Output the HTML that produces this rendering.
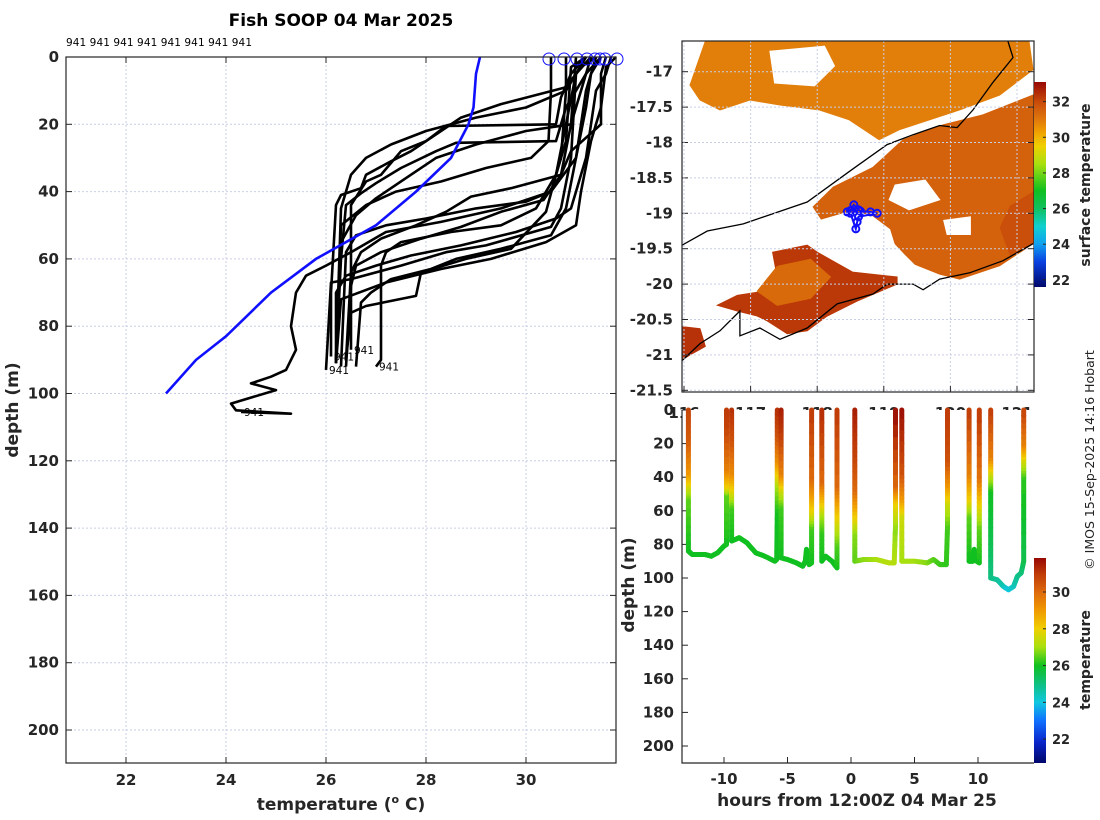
<!DOCTYPE html>
<html><head><meta charset="utf-8"><style>
html,body{margin:0;padding:0;background:#fff;}
svg{display:block;font-family:"DejaVu Sans","Liberation Sans",sans-serif;}
.tk{font-size:15px;font-weight:bold;fill:#262626;}
.lab{font-size:17px;font-weight:bold;fill:#262626;}
</style></head><body>
<svg id="fig" width="1100" height="820" viewBox="0 0 1100 820">
<defs>
<linearGradient id="cbMap" x1="0" y1="1" x2="0" y2="0"></linearGradient>
<linearGradient id="cbTemp" x1="0" y1="1" x2="0" y2="0"></linearGradient>
</defs>
<text x="341" y="26" text-anchor="middle" style="font-size:17px;font-weight:bold;fill:#000">Fish SOOP 04 Mar 2025</text>
<text x="66" y="46" style="font-size:10.5px;fill:#000" textLength="186">941 941 941 941 941 941 941 941</text>
<g id="left"></g>
<g id="map"></g>
<g id="bot"></g>
<text transform="translate(1094,460) rotate(-90)" text-anchor="middle" style="font-size:12.5px;fill:#222">© IMOS 15-Sep-2025 14:16 Hobart</text>
</svg>
<script>
// ---------- LEFT PROFILE DATA ----------
const tempTicks=[22,24,26,28,30];
const depthTicks=[0,20,40,60,80,100,120,140,160,180,200];
const blueProfile=[[29.08,0],[29.0,5],[28.95,15],[28.85,20],[28.5,30],[27.8,40],[27.0,50],[25.8,60],[24.9,70],[24.0,83],[23.4,90],[22.8,100]];
const profiles=[
[[31.4,0],[31.1,3],[30.8,9],[29.5,14],[28.7,18],[28.1,24],[27.7,28],[27.3,31],[26.8,35],[26.7,39],[26.3,41],[26.2,44],[26.1,70],[26.1,89]],
[[31.2,0],[30.9,5],[30.7,12],[30.6,20],[28.4,20.5],[28.0,25],[27.5,28],[27.1,35],[26.8,37],[26.5,44],[26.5,70],[26.5,87]],
[[31.6,0],[31.5,5],[31.5,20],[30.9,28],[30.7,35],[29.7,39],[28.9,41.5],[28.4,46],[27.8,50],[27.1,54],[26.7,58],[26.5,64],[26.4,90]],
[[31.2,0],[30.9,3],[30.8,25],[30.6,35],[30.4,46],[29.7,57],[28.8,60],[27.9,64],[27.8,71],[26.8,74],[26.5,76],[26.4,90]],
[[31.3,0],[31.0,5],[30.9,30],[30.7,45],[30.5,50.5],[29.2,56],[28.4,58],[27.5,62],[26.5,66],[26.1,67],[26.0,93]],
[[31.0,0],[30.9,20],[30.7,35],[30.35,42.5],[29.5,46],[28.7,50.5],[27.9,54],[27.1,58],[26.6,62],[26.5,68],[26.4,92]],
[[31.3,0],[31.0,5],[30.8,20],[30.6,35],[30.2,45],[29.5,50],[28.5,52],[27.5,55],[27.2,58],[27.1,62],[27.1,90],[27.0,92]],
[[31.5,0],[31.2,5],[30.8,15],[30.6,25],[28.6,25.5],[28.2,28],[27.5,33],[27.0,37.5],[26.7,40.5],[26.4,44],[26.3,60],[26.2,90]],
[[31.4,0],[31.2,10],[31.0,30],[30.8,45],[30.5,53],[29.5,57],[28.6,60],[28.1,63],[27.3,66],[26.9,70],[26.7,73],[26.6,92]],
[[31.7,0],[31.6,5],[31.4,10],[31.3,20],[31.2,30],[31.0,40],[30.9,45],[30.6,48],[29.8,52],[28.7,56],[27.7,59],[27.0,62],[26.4,65],[26.2,70],[26.2,91]],
[[31.2,0],[31.0,5],[30.8,10],[30.0,15],[29.0,18],[28.0,22],[27.3,26],[26.8,30],[26.5,35],[26.3,45],[26.2,90]],
[[31.3,0],[31.1,10],[30.9,20],[30.0,22],[29.0,26],[28.2,30],[27.6,36],[27.0,42],[26.6,47],[26.3,55],[26.2,91]],
[[31.5,0],[31.3,5],[31.2,15],[31.0,30],[30.5,40],[29.5,45],[28.3,49],[27.2,52],[26.5,58],[26.0,62],[25.6,65],[25.4,70],[25.3,80],[25.4,87],[25.2,93],[24.9,95],[24.5,97],[25.0,99],[24.1,103],[24.2,105],[25.3,106],[24.3,105.5]],
[[30.8,0],[30.8,10],[30.75,20],[30.7,30],[30.5,40],[30.0,43],[29.0,45],[28.0,48],[27.2,50],[26.6,53],[26.4,58],[26.3,92]],
[[30.5,0],[30.5,10],[30.45,25],[30.1,30],[29.2,33],[28.3,37],[27.4,40],[26.8,44],[26.3,50],[26.2,90]],
[[31.8,0],[31.6,3],[31.5,15],[31.3,25],[31.1,40],[31.0,50],[30.4,55],[29.3,60],[28.3,63],[27.2,67],[26.3,72],[26.2,91]]
];
const surfaceTemps=[30.46,30.76,31.02,31.22,31.38,31.48,31.58,31.82];
const endLabelProfiles=[0,4,1,6,12];

// ---------- MAP DATA ----------
const latTicks=[-17,-17.5,-18,-18.5,-19,-19.5,-20,-20.5,-21,-21.5];
const lonTicks=[116,117,118,119,120,121];
const coastUpper=[[115.97,-19.45],[116.35,-19.25],[116.89,-19.15],[117.29,-19.02],[117.85,-18.84],[118.54,-18.37],[119.05,-18.03],[119.44,-17.89],[119.84,-17.76],[120.1,-17.79],[120.34,-17.54],[120.64,-17.15],[120.94,-16.8],[120.86,-16.56]];
const coastLower=[[115.97,-21.08],[116.24,-20.84],[116.54,-20.66],[116.84,-20.38],[116.84,-20.73],[117.14,-20.62],[117.44,-20.78],[117.85,-20.62],[118.3,-20.28],[118.84,-20.14],[119.05,-20.0],[119.44,-20.0],[119.59,-20.08],[119.84,-19.93],[120.29,-19.84],[120.79,-19.67],[121.24,-19.43]];
const sstRegions=[
 {t:30.9,pts:[[116.09,-17.19],[116.32,-16.57],[119.23,-16.57],[121.18,-16.57],[121.24,-16.97],[120.74,-17.33],[120.14,-17.54],[119.23,-17.82],[118.93,-17.96],[118.48,-17.68],[118.03,-17.54],[117.44,-17.47],[116.99,-17.4],[116.54,-17.54],[116.24,-17.4]]},
 {t:99,pts:[[117.29,-16.71],[118.11,-16.64],[118.26,-16.92],[117.96,-17.2],[117.36,-17.16]]},
 {t:99,pts:[[116.6,-17.7],[117.5,-17.55],[118.3,-17.75],[118.2,-18.0],[117.2,-18.1]]},
 {t:31.5,pts:[[117.94,-18.91],[118.24,-18.63],[118.84,-18.35],[119.29,-17.96],[119.89,-17.75],[120.49,-17.61],[121.24,-17.33],[121.24,-19.43],[120.74,-19.74],[120.14,-19.93],[119.84,-19.86],[119.47,-19.72],[119.32,-19.58],[119.17,-19.43],[119.1,-19.22],[118.8,-19.01],[118.43,-18.98],[118.06,-19.08]]},
 {t:99,pts:[[119.17,-18.6],[119.62,-18.53],[119.84,-18.81],[119.38,-18.95],[119.08,-18.81]]},
 {t:99,pts:[[119.9,-19.1],[120.3,-19.05],[120.3,-19.3],[119.95,-19.3]]},
 {t:31.9,pts:[[120.9,-18.9],[121.24,-18.7],[121.24,-19.43],[120.9,-19.6],[120.75,-19.2]]},
 {t:32.3,pts:[[117.33,-19.55],[117.85,-19.45],[118.0,-19.55],[118.53,-19.83],[119.2,-19.9],[119.2,-20.0],[118.6,-20.24],[118.15,-20.45],[117.85,-20.66],[117.55,-20.7],[117.25,-20.52],[117.1,-20.45],[116.8,-20.38],[116.5,-20.3],[116.8,-20.16],[117.2,-20.1],[117.4,-19.9]]},
 {t:31.3,pts:[[117.4,-19.75],[117.9,-19.65],[118.2,-19.9],[117.9,-20.2],[117.4,-20.3],[117.1,-20.1]]},
 {t:32.4,pts:[[115.97,-20.6],[116.24,-20.63],[116.32,-20.88],[116.09,-21.0],[115.97,-21.07]]}
];
const trackLon=[118.45,118.5,118.55,118.62,118.65,118.8,118.9,118.62,118.6,118.58,118.5];
const trackLat=[-18.98,-18.96,-18.88,-18.95,-18.97,-18.98,-19.0,-19.05,-19.12,-19.22,-19.0];
const mapCbTicks=[22,24,26,28,30,32];

// ---------- DEPTH-TIME DATA (one sub-array per cast) ----------
const hourTicks=[-10,-5,0,5,10];
const depthTicks2=[0,20,40,60,80,100,120,140,160,180,200];
const tempCbTicks=[22,24,26,28,30];
const castHours=[
[-12.8,-12.8,-12.8,-12.8,-12.8,-12.8,-12.5,-11.5,-11.0,-10.5,-10.0,-9.8,-9.8,-9.8,-9.8,-9.8,-9.8],
[-9.4,-9.4,-9.4,-9.4,-9.4,-9.4,-8.8,-8.2,-7.5,-6.8,-6.0,-5.85,-5.8,-5.8,-5.8,-5.8,-5.8,-5.8],
[-5.5,-5.5,-5.5,-5.5,-5.5,-5.5,-5.0,-4.3,-3.8,-3.6,-3.5,-3.3,-3.1,-3.1,-3.1,-3.1,-3.1,-3.1],
[-2.3,-2.3,-2.3,-2.3,-2.3,-2.3,-2.0,-1.5,-1.1,-1.1,-1.1,-1.1,-1.1,-1.1],
[0.3,0.3,0.3,0.3,0.3,0.3,1.0,2.0,3.0,3.4,3.5,3.5,3.5,3.5],
[4.0,4.0,4.0,4.0,4.0,5.0,6.0,6.5,7.0,7.5,7.6,7.6,7.6,7.6,7.6],
[9.3,9.3,9.3,9.3,9.3,9.6,9.7,9.9,10.1,10.1,10.1,10.1,10.1],
[11.0,11.0,11.0,11.0,11.0,11.0,11.5,12.0,12.4,12.8,13.1,13.4,13.6,13.6,13.6,13.6,13.6]
];
const castDepths=[
[0,20,40,48,55,84,86,86,87,85,81,80,50,45,35,10,0],
[0,20,40,50,60,78,76,79,85,87,90,89,60,45,38,30,15,0],
[0,15,40,50,60,88,89,91,93,90,83,92,91,70,60,50,40,0],
[0,45,55,65,75,90,87,90,94,80,68,58,45,0],
[0,30,50,62,75,90,89,89,91,91,70,55,45,0],
[0,40,55,65,90,90,91,89,92,92,70,55,45,30,0],
[0,40,55,65,90,90,83,90,91,70,55,40,0],
[0,30,40,50,80,100,101,105,107,105,99,97,90,40,30,20,0]
];
const castTemps=[
[30.8,30.3,29.0,27.5,26.5,26.0,26,26,26,26,26,26,26.5,28.0,29.5,30.8,31.0],
[31.2,30.5,29.3,27.8,26.3,26.0,26,26,26,26,26,26,26.0,27.0,28.0,29.2,30.5,31.2],
[31.5,31.0,29.5,27.5,26.3,26.0,26,26,26,26,26,26,26.0,26.3,27.8,29.0,30.0,31.0],
[31.3,30.0,28.5,27.0,26.2,26.0,26,26,26,26.4,27.5,28.5,30.0,31.0],
[31.5,30.8,30.0,28.5,26.8,26.5,26.8,27.0,27.2,27.2,26.8,28.0,30.0,31.8],
[31.8,30.5,29.0,27.5,27.0,27.0,26.8,26.5,26.3,26.2,26.3,27.5,29.0,30.5,31.0],
[31,29.5,28,26.5,26,26,26,26,26,26.5,28,29.8,31],
[31,29.5,27.5,26,25.5,25,24.8,24.5,24,24.3,24.8,25,25.5,26.2,27.5,29.5,30.8]
];

// ---------- helpers ----------
const NS="http://www.w3.org/2000/svg";
function mk(tag,attrs,parent,txt){const e=document.createElementNS(NS,tag);for(const k in attrs)e.setAttribute(k,attrs[k]);if(txt!==undefined)e.textContent=txt;parent.appendChild(e);return e;}
function hex2rgb(h){return [parseInt(h.slice(1,3),16),parseInt(h.slice(3,5),16),parseInt(h.slice(5,7),16)];}
function cmap(stops,v){if(v<=stops[0][0])return stops[0][1];if(v>=stops[stops.length-1][0])return stops[stops.length-1][1];
 for(let i=0;i<stops.length-1;i++){const a=stops[i],b=stops[i+1];if(v>=a[0]&&v<=b[0]){const f=(v-a[0])/(b[0]-a[0]);const c1=hex2rgb(a[1]),c2=hex2rgb(b[1]);return 'rgb('+c1.map((c,j)=>Math.round(c+(c2[j]-c)*f)).join(',')+')';}}}
const tStops=[[20.7,'#00086a'],[21.8,'#0a24c8'],[23,'#1070ff'],[24,'#10c8e0'],[25,'#10c080'],[26,'#10c020'],[27,'#a8e010'],[28,'#f0d000'],[29,'#f09a00'],[30,'#dd6a0c'],[31,'#bf3a08'],[31.85,'#960804']];
const mStops=[[21.6,'#00086a'],[23,'#0a40e0'],[24,'#10a0f0'],[25,'#10d0d0'],[26,'#10c060'],[27,'#10c020'],[28.5,'#a8e010'],[29.5,'#f0d000'],[30.3,'#f0a000'],[31,'#e0780c'],[32,'#c84a0a'],[33.1,'#980804']];
function fillGrad(id,stops){const g=document.getElementById(id);const lo=stops[0][0],hi=stops[stops.length-1][0];
 stops.forEach(s=>mk('stop',{offset:((s[0]-lo)/(hi-lo)).toFixed(3),'stop-color':s[1]},g));}
fillGrad('cbMap',mStops);fillGrad('cbTemp',tStops);

// ---------- LEFT PLOT ----------
const L=document.getElementById('left');
const xT=T=>66+(T-20.8)*50, yD=d=>57+d*3.365;
tempTicks.forEach(t=>{const g=mk('line',{x1:xT(t),x2:xT(t),y1:57,y2:763,stroke:'#c9cfe6','stroke-dasharray':'2,2','stroke-width':1},L);
 
 mk('line',{x1:xT(t),x2:xT(t),y1:57,y2:63,stroke:'#262626'},L);mk('line',{x1:xT(t),x2:xT(t),y1:757,y2:763,stroke:'#262626'},L);
 const tx=mk('text',{x:xT(t),y:785,'text-anchor':'middle',class:'tk'},L,String(t));
 });
depthTicks.forEach(d=>{const g=mk('line',{x1:66,x2:616,y1:yD(d),y2:yD(d),stroke:'#c9cfe6','stroke-dasharray':'2,2','stroke-width':1},L);
 
 mk('line',{x1:66,x2:72,y1:yD(d),y2:yD(d),stroke:'#262626'},L);mk('line',{x1:610,x2:616,y1:yD(d),y2:yD(d),stroke:'#262626'},L);
 const tx=mk('text',{x:59,y:yD(d)+5,'text-anchor':'end',class:'tk'},L,String(d));
 });
profiles.forEach((p,i)=>{const pl=mk('polyline',{points:p.map(q=>xT(q[0]).toFixed(1)+','+yD(q[1]).toFixed(1)).join(' '),fill:'none',stroke:'#000','stroke-width':2.6,'stroke-linejoin':'round'},L);
 });
endLabelProfiles.forEach(i=>{const p=profiles[i][profiles[i].length-1];
 const t=mk('text',{x:xT(p[0])+3,y:yD(p[1])+4,style:'font-size:10.5px;fill:#000'},L,'941');
 });
const bl=mk('polyline',{points:blueProfile.map(q=>xT(q[0]).toFixed(1)+','+yD(q[1]).toFixed(1)).join(' '),fill:'none',stroke:'#1010ff','stroke-width':2.6},L);

surfaceTemps.forEach(t=>{const c=mk('circle',{cx:xT(t),cy:yD(0)+2,r:6,fill:'none',stroke:'#1010ff','stroke-width':1},L);
 });
const lf=mk('rect',{x:66,y:57,width:550,height:706,fill:'none',stroke:'#262626','stroke-width':1.2},L);

let xl=mk('text',{x:341,y:810,'text-anchor':'middle',class:'lab'},L);

xl.innerHTML='temperature (<tspan dy="-7" style="font-size:11px">o</tspan><tspan dy="7"> C)</tspan>';
let yl=mk('text',{transform:'translate(18,410) rotate(-90)','text-anchor':'middle',class:'lab'},L,'depth (m)');


// ---------- MAP ----------
const M=document.getElementById('map');
const xLon=lo=>684+(lo-116)*66.6, yLat=la=>71.7+(-17-la)*70.8;
const clip=mk('clipPath',{id:'mapClip'},document.querySelector('defs'));mk('rect',{x:682,y:41,width:352,height:351},clip);
const MG=mk('g',{'clip-path':'url(#mapClip)'},M);
sstRegions.forEach(r=>{const col=r.t>90?'#ffffff':cmap(mStops,r.t);
 const pg=mk('polygon',{points:r.pts.map(q=>xLon(q[0]).toFixed(1)+','+yLat(q[1]).toFixed(1)).join(' '),fill:col,stroke:col,'stroke-width':1},MG);
 });
latTicks.forEach(la=>{mk('line',{x1:682,x2:1034,y1:yLat(la),y2:yLat(la),stroke:'#c9cfe6','stroke-dasharray':'2,2'},M);
 mk('line',{x1:682,x2:688,y1:yLat(la),y2:yLat(la),stroke:'#262626'},M);mk('line',{x1:1028,x2:1034,y1:yLat(la),y2:yLat(la),stroke:'#262626'},M);
 const t=mk('text',{x:673,y:yLat(la)+5,'text-anchor':'end',class:'tk'},M,String(la));
 });
lonTicks.forEach(lo=>{mk('line',{x1:xLon(lo),x2:xLon(lo),y1:41,y2:392,stroke:'#c9cfe6','stroke-dasharray':'2,2'},M);
 mk('line',{x1:xLon(lo),x2:xLon(lo),y1:386,y2:392,stroke:'#262626'},M);
 const t=mk('text',{x:xLon(lo),y:418,'text-anchor':'middle',class:'tk'},M,String(lo));
 });
[coastUpper,coastLower].forEach((c,i)=>{const pl=mk('polyline',{points:c.map(q=>xLon(q[0]).toFixed(1)+','+yLat(q[1]).toFixed(1)).join(' '),fill:'none',stroke:'#000','stroke-width':1.3},MG);
 });
const tr=mk('polyline',{points:trackLon.map((lo,i)=>xLon(lo).toFixed(1)+','+yLat(trackLat[i]).toFixed(1)).join(' '),fill:'none',stroke:'#1010ff','stroke-width':2},MG);

trackLon.forEach((lo,i)=>{const c=mk('circle',{cx:xLon(lo),cy:yLat(trackLat[i]),r:3.5,fill:'none',stroke:'#1010ff','stroke-width':2},MG);
 });
const mf=mk('rect',{x:682,y:41,width:352,height:351,fill:'none',stroke:'#262626','stroke-width':1.2},M);

const yM=v=>287-(v-21.6)*(205/(33.1-21.6));
const cb1=mk('rect',{x:1034,y:82,width:12,height:205,fill:'url(#cbMap)'},M);

mapCbTicks.forEach(v=>{mk('line',{x1:1043,x2:1046,y1:yM(v),y2:yM(v),stroke:'#262626'},M);
 const t=mk('text',{x:1052,y:yM(v)+5,class:'tk',style:'font-size:13px'},M,String(v));
 });
const st=mk('text',{transform:'translate(1090,185) rotate(-90)','text-anchor':'middle',class:'lab',style:'font-size:14px'},M,'surface temperature');


// ---------- BOTTOM RIGHT ----------
const B=document.getElementById('bot');
const xH=h=>851+h*12.7, yD2=d=>410+d*1.68;
mk('rect',{x:682,y:410,width:352,height:353,fill:'#fff'},B);
depthTicks2.forEach(d=>{mk('line',{x1:682,x2:688,y1:yD2(d),y2:yD2(d),stroke:'#262626'},B);
 const t=mk('text',{x:674,y:yD2(d)+5,'text-anchor':'end',class:'tk'},B,String(d));
 });
hourTicks.forEach(h=>{mk('line',{x1:xH(h),x2:xH(h),y1:757,y2:763,stroke:'#262626'},B);
 const t=mk('text',{x:xH(h),y:784,'text-anchor':'middle',class:'tk'},B,String(h));
 });
castHours.forEach((hs,c)=>{
 const SG=mk('g',{},B);
 
 
 const ds=castDepths[c],ts=castTemps[c];
 for(let i=0;i<hs.length-1;i++){
  const n=6;
  for(let k=0;k<n;k++){const f0=k/n,f1=(k+1)/n;
   const h0=hs[i]+(hs[i+1]-hs[i])*f0,h1=hs[i]+(hs[i+1]-hs[i])*f1;
   const d0=ds[i]+(ds[i+1]-ds[i])*f0,d1=ds[i]+(ds[i+1]-ds[i])*f1;
   const tm=ts[i]+(ts[i+1]-ts[i])*(f0+f1)/2;
   mk('line',{x1:xH(h0).toFixed(1),y1:yD2(d0).toFixed(1),x2:xH(h1).toFixed(1),y2:yD2(d1).toFixed(1),stroke:cmap(tStops,tm),'stroke-width':5,'stroke-linecap':'round'},SG);}
 }
});
const bf=mk('polyline',{points:'682,410 682,763 1034,763',fill:'none',stroke:'#262626','stroke-width':1.2},B);

const yC=v=>763-(v-20.7)*(205/(31.85-20.7));
const cb2=mk('rect',{x:1034,y:558,width:12,height:205,fill:'url(#cbTemp)'},B);

tempCbTicks.forEach(v=>{mk('line',{x1:1043,x2:1046,y1:yC(v),y2:yC(v),stroke:'#262626'},B);
 const t=mk('text',{x:1052,y:yC(v)+5,class:'tk',style:'font-size:13px'},B,String(v));
 });
const ct=mk('text',{transform:'translate(1090,660) rotate(-90)','text-anchor':'middle',class:'lab',style:'font-size:14px'},B,'temperature');

const hx=mk('text',{x:857,y:806,'text-anchor':'middle',class:'lab'},B,'hours from 12:00Z 04 Mar 25');

const dy=mk('text',{transform:'translate(634,585) rotate(-90)','text-anchor':'middle',class:'lab'},B,'depth (m)');

</script>
</body></html>
